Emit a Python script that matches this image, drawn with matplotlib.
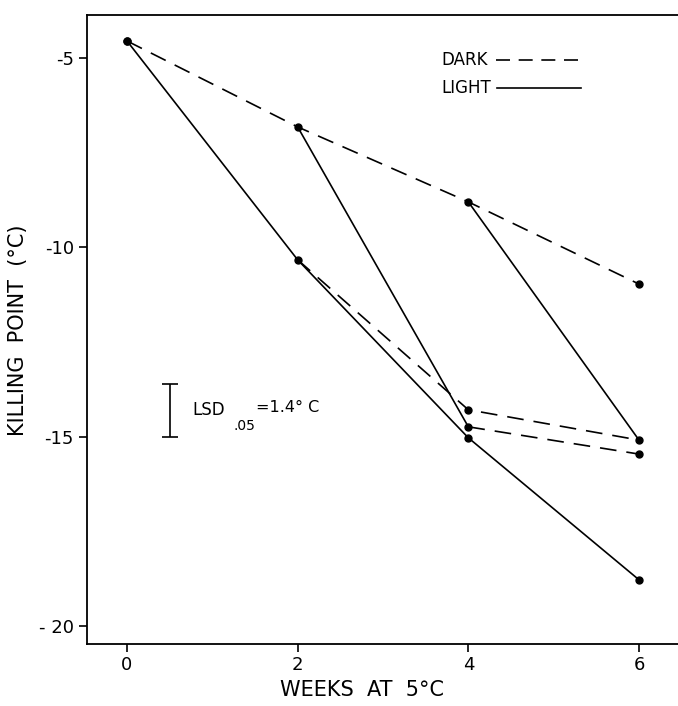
import matplotlib
matplotlib.use("Agg")
import matplotlib.pyplot as plt

# Data (weeks at 5 C, killing point in C)
weeks = [0, 2, 4, 6]
dark_values = [-4.55, -6.82, -8.80, -10.97]
light_values = [-4.55, -10.33, -15.03, -18.78]

# transfer segments
dark2_light_x = [2, 4]
dark2_light_y = [-6.82, -14.74]
dark2_light_dark_x = [4, 6]
dark2_light_dark_y = [-14.74, -15.46]
dark4_light_x = [4, 6]
dark4_light_y = [-8.80, -15.09]
light2_dark_x = [2, 4, 6]
light2_dark_y = [-10.33, -14.29, -15.09]

extra_points_x = [4, 4, 6, 6]
extra_points_y = [-14.29, -14.74, -15.09, -15.46]

xticks = [0, 2, 4, 6]
yticks = [-5, -10, -15, -20]
ytick_labels = ["-5", "-10", "-15", "- 20"]

lsd = 1.4

plt.rcParams['font.family'] = ['DejaVu Sans']

W, H = 678, 706
fig = plt.figure(figsize=(W / 100, H / 100), dpi=100)
left_px, right_px, top_px, bottom_px = 87, 712, 15, 644
ax = fig.add_axes([left_px / W, 1 - bottom_px / H,
                   (right_px - left_px) / W, (bottom_px - top_px) / H])

dash = (0, (10, 6))
lw = 1.2
col = 'black'

ax.plot(weeks, dark_values, color=col, lw=lw, linestyle=dash, marker='o', ms=5)
ax.plot(weeks, light_values, color=col, lw=lw, linestyle='-', marker='o', ms=5)
ax.plot(dark2_light_x, dark2_light_y, color=col, lw=lw, linestyle='-')
ax.plot(dark2_light_dark_x, dark2_light_dark_y, color=col, lw=lw, linestyle=dash)
ax.plot(dark4_light_x, dark4_light_y, color=col, lw=lw, linestyle='-')
ax.plot(light2_dark_x, light2_dark_y, color=col, lw=lw, linestyle=dash)
ax.plot(extra_points_x, extra_points_y, 'o', color=col, ms=5)

px_per_week = (639 - 127) / 6.0
px_per_unit = (626 - 58) / 15.0
ax.set_xlim((left_px - 127) / px_per_week, (right_px - 127) / px_per_week)
ax.set_ylim(-20 - (bottom_px - 626) / px_per_unit, -5 + (58 - top_px) / px_per_unit)

ax.set_xticks(xticks)
ax.set_xticklabels([str(t) for t in xticks])
ax.set_yticks(yticks)
ax.set_yticklabels(ytick_labels)
ax.tick_params(direction='out', length=5.5, width=1.2, labelsize=13)
ax.tick_params(axis='x', pad=3)
ax.tick_params(axis='y', pad=4)

for s in ['left', 'bottom', 'top']:
    ax.spines[s].set_linewidth(1.3)
ax.spines['right'].set_visible(False)

fig.text(362 / W, 1 - 690 / H, "WEEKS  AT  5°C", fontsize=15,
         ha='center', va='center')
fig.text(18 / W, 1 - 330 / H, "KILLING  POINT  (°C)", fontsize=15,
         ha='center', va='center', rotation=90)

# legend
leg_dash = (0, (8.4, 5.2))
ax.text(3.685, -5.05, "DARK", fontsize=12, va='center', ha='left')
ax.plot([4.32, 5.28], [-5.05, -5.05], color=col, lw=lw, linestyle=leg_dash)
ax.text(3.685, -5.8, "LIGHT", fontsize=12, va='center', ha='left')
ax.plot([4.34, 5.32], [-5.8, -5.8], color=col, lw=lw, linestyle='-')

# LSD bar
lsd_x = 0.505
lsd_top = -13.62
ax.errorbar([lsd_x], [lsd_top - lsd / 2], yerr=[lsd / 2], color=col, lw=1.2,
            capsize=6, capthick=1.2)
ax.text(0.77, -14.3, "LSD", fontsize=12, va='center', ha='left')
ax.text(1.25, -14.72, ".05", fontsize=10, va='center', ha='left')
ax.text(1.51, -14.22, "=1.4° C", fontsize=11.5, va='center', ha='left')

fig.savefig("out.png", dpi=100)
